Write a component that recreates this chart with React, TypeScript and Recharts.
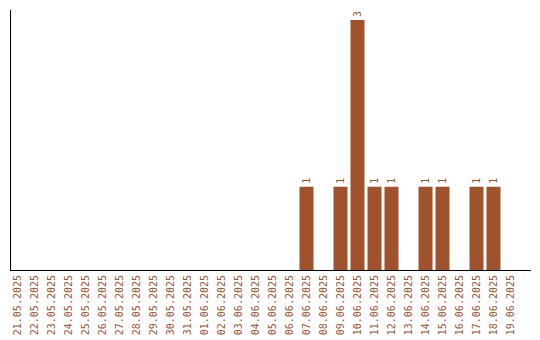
import { BarChart, Bar, XAxis, YAxis, LabelList } from "recharts";

const dates = [
  "21.05.2025", "22.05.2025", "23.05.2025", "24.05.2025", "25.05.2025",
  "26.05.2025", "27.05.2025", "28.05.2025", "29.05.2025", "30.05.2025",
  "31.05.2025", "01.06.2025", "02.06.2025", "03.06.2025", "04.06.2025",
  "05.06.2025", "06.06.2025", "07.06.2025", "08.06.2025", "09.06.2025",
  "10.06.2025", "11.06.2025", "12.06.2025", "13.06.2025", "14.06.2025",
  "15.06.2025", "16.06.2025", "17.06.2025", "18.06.2025", "19.06.2025",
];
const counts = [
  0, 0, 0, 0, 0, 0, 0, 0, 0, 0,
  0, 0, 0, 0, 0, 0, 0, 1, 0, 1,
  3, 1, 1, 0, 1, 1, 0, 1, 1, 0,
];

const COLOR = "#A0522D";
const FONT = "'DejaVu Sans Mono', monospace";

const data = dates.map((d, i) => ({ date: d, count: counts[i] }));

function DateTick({ x, y, payload }: any) {
  return (
    <g transform={`translate(${x},${y})`}>
      <text
        transform="rotate(-90)"
        x={-5}
        dy="0.35em"
        textAnchor="end"
        fill={COLOR}
        fontSize={10}
        fontFamily={FONT}
      >
        {payload.value}
      </text>
    </g>
  );
}

function TopLabel({ x, y, width, value }: any) {
  if (!value) return null;
  const cx = x + width / 2;
  return (
    <text
      transform={`translate(${cx},${y - 3}) rotate(-90)`}
      dy="0.35em"
      textAnchor="start"
      fill={COLOR}
      fontSize={10}
      fontFamily={FONT}
    >
      {value}
    </text>
  );
}

const axisStyle = { stroke: "#000", strokeWidth: 1, shapeRendering: "crispEdges" };

export default function App() {
  return (
    <div style={{ position: "absolute", left: 0, top: 0, background: "#fff" }}>
      <BarChart
        width={540}
        height={340}
        data={data}
        margin={{ top: 10, right: 9, bottom: 0, left: 9 }}
      >
        <XAxis
          dataKey="date"
          interval={0}
          height={70}
          tickLine={false}
          tickSize={0}
          tickMargin={0}
          tick={<DateTick />}
          axisLine={axisStyle}
          padding={{ left: -1.5, right: 12.5 }}
        />
        <YAxis
          width={1}
          domain={[0, 3]}
          tick={false}
          tickLine={false}
          axisLine={axisStyle}
          padding={{ top: 10, bottom: 0 }}
        />
        <Bar dataKey="count" fill={COLOR} barSize={14} isAnimationActive={false}>
          <LabelList dataKey="count" content={<TopLabel />} />
        </Bar>
      </BarChart>
    </div>
  );
}
